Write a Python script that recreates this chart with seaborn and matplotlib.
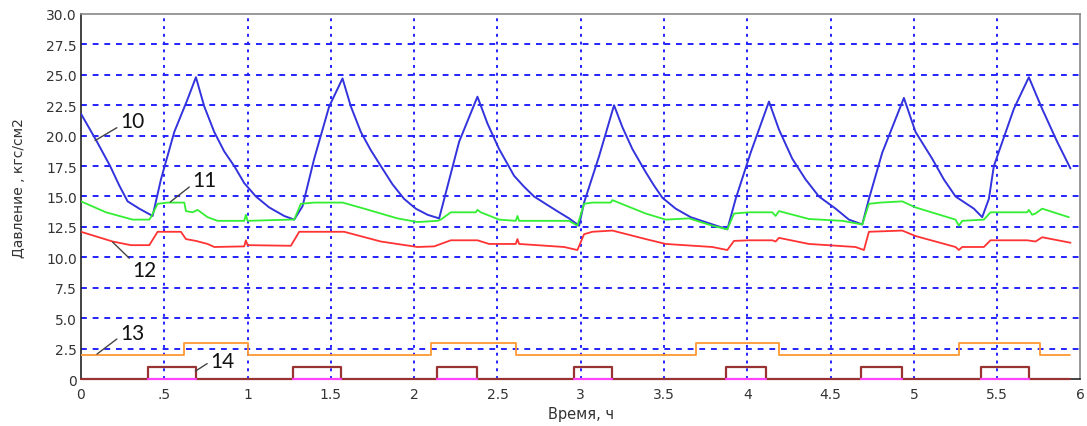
import numpy as np
import pandas as pd
import matplotlib
matplotlib.use('Agg')
import matplotlib.pyplot as plt
import seaborn as sns

# curve 10 - blue saw-tooth
t_10 = [0, 0.05, 0.096, 0.175, 0.23, 0.28, 0.35, 0.43, 0.48, 0.56, 0.64, 0.69,
        0.74, 0.80, 0.86, 0.92, 0.98, 1.05, 1.13, 1.22, 1.28,
        1.33, 1.40, 1.49, 1.57, 1.62, 1.68, 1.74, 1.80, 1.87, 1.94, 2.01, 2.08, 2.15,
        2.27, 2.38, 2.44, 2.51, 2.60, 2.66, 2.72, 2.80, 2.87, 2.93, 2.99,
        3.02, 3.11, 3.20, 3.25, 3.31, 3.39, 3.44, 3.49, 3.57, 3.66, 3.77, 3.88,
        3.93, 4.02, 4.13, 4.19, 4.27, 4.35, 4.43, 4.53, 4.61, 4.69,
        4.73, 4.81, 4.94, 5.01, 5.11, 5.18, 5.25, 5.36, 5.41,
        5.45, 5.48, 5.60, 5.69, 5.77, 5.86, 5.94]
p_10 = [21.8, 20.6, 19.5, 17.5, 15.9, 14.6, 14.0, 13.4, 16.4, 20.3, 23.0, 24.8,
        22.4, 20.3, 18.7, 17.5, 16.1, 15.0, 14.1, 13.4, 13.1,
        14.2, 18.1, 22.4, 24.7, 22.4, 20.3, 18.8, 17.5, 16.0, 14.8, 14.0, 13.5, 13.2,
        19.5, 23.2, 21.0, 18.9, 16.7, 15.8, 15.0, 14.3, 13.7, 13.2, 12.6,
        14.5, 18.3, 22.5, 20.7, 18.9, 17.0, 15.9, 14.9, 14.0, 13.3, 12.8, 12.3,
        14.8, 18.6, 22.8, 20.5, 18.1, 16.4, 15.0, 14.0, 13.1, 12.7,
        14.8, 18.6, 23.1, 20.3, 18.1, 16.4, 15.0, 14.0, 13.3,
        14.8, 17.5, 22.2, 24.8, 22.2, 19.5, 17.3]

# curve 11 - green
t_11 = [0, 0.15, 0.31, 0.41, 0.42, 0.46, 0.52, 0.62, 0.63, 0.67, 0.70, 0.71, 0.76, 0.82,
        0.98, 0.99, 1.0, 1.26, 1.28, 1.32, 1.40, 1.57, 1.70, 1.90, 2.02, 2.14, 2.16, 2.22,
        2.37, 2.38, 2.40, 2.51, 2.61, 2.62, 2.63, 2.93, 2.98, 3.02, 3.07, 3.18, 3.19, 3.39,
        3.51, 3.65, 3.79, 3.88, 3.92, 4.01, 4.15, 4.17, 4.19, 4.37, 4.57, 4.69, 4.73, 4.80,
        4.93, 5.01, 5.25, 5.27, 5.29, 5.42, 5.46, 5.68, 5.69, 5.71, 5.73, 5.77, 5.93]
p_11 = [14.6, 13.7, 13.1, 13.1, 13.3, 14.4, 14.5, 14.5, 13.8, 13.7, 13.9, 13.8, 13.3, 13.0,
        13.0, 13.5, 13.0, 13.1, 13.1, 14.4, 14.5, 14.5, 14.0, 13.2, 12.9, 13.0, 13.1, 13.7,
        13.7, 13.9, 13.7, 13.1, 13.0, 13.4, 13.0, 13.0, 12.6, 14.4, 14.5, 14.5, 14.7, 13.6,
        13.1, 13.2, 12.6, 12.3, 13.6, 13.7, 13.7, 13.4, 13.8, 13.15, 13.0, 12.7, 14.4, 14.5,
        14.6, 14.1, 13.1, 12.6, 13.0, 13.1, 13.7, 13.7, 13.9, 13.5, 13.6, 14.0, 13.3]

# curve 12 - red
t_12 = [0, 0.19, 0.30, 0.41, 0.46, 0.60, 0.63, 0.69, 0.76, 0.80, 0.98, 0.99, 1.0, 1.26,
        1.31, 1.58, 1.80, 2.02, 2.12, 2.22, 2.38, 2.45, 2.61, 2.62, 2.63, 2.90, 2.98, 3.02,
        3.07, 3.19, 3.39, 3.51, 3.79, 3.88, 3.92, 4.01, 4.15, 4.17, 4.19, 4.37, 4.65, 4.70,
        4.73, 4.93, 5.01, 5.25, 5.27, 5.29, 5.42, 5.46, 5.68, 5.73, 5.77, 5.94]
p_12 = [12.1, 11.3, 11.0, 11.0, 12.1, 12.1, 11.5, 11.35, 11.1, 10.85, 10.9, 11.4, 11.0, 10.95,
        12.1, 12.1, 11.3, 10.85, 10.9, 11.4, 11.4, 11.1, 11.1, 11.5, 11.1, 10.85, 10.6, 11.9,
        12.1, 12.2, 11.5, 11.1, 10.85, 10.6, 11.35, 11.4, 11.4, 11.3, 11.6, 11.1, 10.85, 10.6,
        12.1, 12.2, 11.75, 10.85, 10.6, 10.85, 10.85, 11.4, 11.4, 11.3, 11.65, 11.2]

# curve 13 - orange steps
t_13 = [0, 0.62, 1.0, 2.10, 2.61, 3.69, 4.19, 5.27, 5.76, 5.94]
p_13 = [2, 3, 2, 3, 2, 3, 2, 3, 2, 2]

# curve 14 - brown pulses
t_14 = [0, 0.40, 0.69, 1.27, 1.56, 2.14, 2.38, 2.96, 3.19, 3.87, 4.11, 4.68, 4.93, 5.40, 5.69, 5.94]
p_14 = [0, 1, 0, 1, 0, 1, 0, 1, 0, 1, 0, 1, 0, 1, 0, 0]

x_ticks = [0, 0.5, 1, 1.5, 2, 2.5, 3, 3.5, 4, 4.5, 5, 5.5, 6]
x_labels = ['0', '.5', '1', '1.5', '2', '2.5', '3', '3.5', '4', '4.5', '5', '5.5', '6']
y_ticks = [0, 2.5, 5, 7.5, 10, 12.5, 15, 17.5, 20, 22.5, 25, 27.5, 30]
y_labels = ['0'] + [f'{v:.1f}' for v in y_ticks[1:]]

sns.set_style('white')
plt.rcParams['font.family'] = ['DejaVu Sans']

fig = plt.figure(figsize=(10.87, 4.27), dpi=100)
ax = fig.add_axes([0.0745, 0.110, 0.9195, 0.855])

# grid first so the curves sit on top
for v in y_ticks[1:-1]:
    ax.axhline(v, color='#2222ff', lw=1.4, ls=(0, (3, 3)), zorder=1)
for v in x_ticks[1:-1]:
    ax.axvline(v, color='#2222ff', lw=1.4, ls=(0, (1.5, 2.5)), zorder=1)

df10 = pd.DataFrame({'t': t_10, 'p': p_10})
df11 = pd.DataFrame({'t': t_11, 'p': p_11})
df12 = pd.DataFrame({'t': t_12, 'p': p_12})
df13 = pd.DataFrame({'t': t_13, 'p': p_13})
df14 = pd.DataFrame({'t': t_14, 'p': p_14})

sns.lineplot(data=df10, x='t', y='p', ax=ax, color='#3333dd', lw=1.4, zorder=3)
sns.lineplot(data=df11, x='t', y='p', ax=ax, color='#33ee33', lw=1.3, zorder=3)
sns.lineplot(data=df12, x='t', y='p', ax=ax, color='#ff3333', lw=1.3, zorder=3)
sns.lineplot(data=df13, x='t', y='p', ax=ax, color='#ff9933', lw=1.3, zorder=3,
             drawstyle='steps-post')
sns.lineplot(data=df14, x='t', y='p', ax=ax, color='#993333', lw=1.6, zorder=5,
             drawstyle='steps-post', clip_on=False)

# magenta trace at zero while pulse 14 is on
for a, b, on in zip(t_14[:-1], t_14[1:], p_14[:-1]):
    if on:
        seg = pd.DataFrame({'t': [a, b], 'p': [0, 0]})
        sns.lineplot(data=seg, x='t', y='p', ax=ax, color='#ff44ff', lw=1.6, zorder=6,
                     clip_on=False)

ax.set_xlim(0, 6)
ax.set_ylim(0, 30)
ax.set_xticks(x_ticks)
ax.set_xticklabels(x_labels)
ax.set_yticks(y_ticks)
ax.set_yticklabels(y_labels)
ax.tick_params(axis='both', length=0, labelsize=10, labelcolor='#333333')
ax.tick_params(axis='y', pad=3)
ax.tick_params(axis='x', pad=6)
ax.set_xlabel('Время, ч', fontsize=10.5, color='#333333', labelpad=3)
ax.set_ylabel('Давление , кгс/см2', fontsize=10, color='#333333')
ax.yaxis.set_label_coords(-0.055, 0.525)

for side in ['left', 'bottom']:
    ax.spines[side].set_color('#222222')
    ax.spines[side].set_linewidth(1.2)
for side in ['top', 'right']:
    ax.spines[side].set_color('#888888')
    ax.spines[side].set_linewidth(1.2)

# curve labels with leader lines
labels = [('10', (0.085, 19.6), (0.235, 20.4), (0, 0.25)),
          ('11', (0.536, 14.55), (0.67, 15.5), (0, 0.3)),
          ('12', (0.19, 11.25), (0.31, 8.1), (0, 0.95)),
          ('13', (0.096, 2.05), (0.235, 3.0), (0, 0.3)),
          ('14', (0.687, 0.65), (0.777, 0.7), (0, 0.45))]
for txt, xy, xytext, rp in labels:
    ax.annotate(txt, xy=xy, xytext=xytext, fontsize=15, family=['Lato', 'DejaVu Sans'],
                color='#111111', ha='left', va='bottom', zorder=7,
                arrowprops=dict(arrowstyle='-', color='#444444', lw=1.0,
                                shrinkA=0, shrinkB=0, relpos=rp))

fig.savefig('out.png', dpi=100)
